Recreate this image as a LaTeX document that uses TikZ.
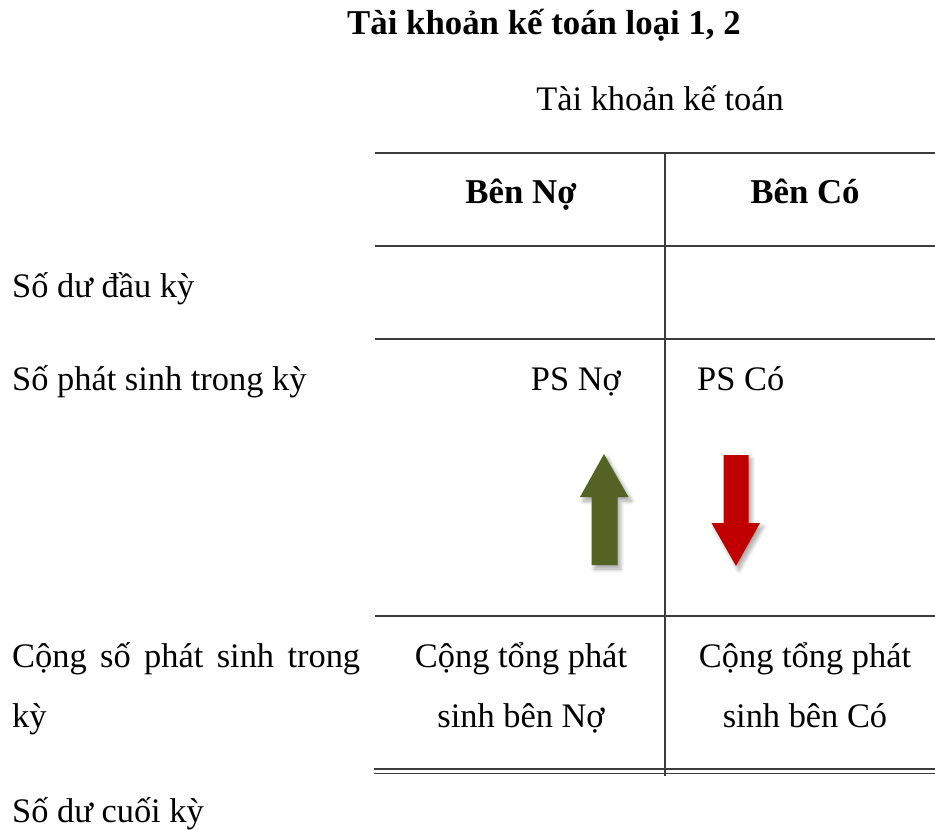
\documentclass[tikz,border=0pt]{standalone}
\usepackage{fontspec}
\setmainfont{Liberation Serif}
\usetikzlibrary{shadows.blur}
\definecolor{rulegray}{RGB}{60,60,60}
\definecolor{upgreen}{RGB}{84,99,35}
\definecolor{downred}{RGB}{192,0,0}
\begin{document}
\begin{tikzpicture}[x=1pt,y=-1pt,
  txt/.style={inner sep=0pt, anchor=base, font=\fontsize{34.4}{40}\selectfont},
  lefttxt/.style={txt, anchor=base west},
  boldtxt/.style={txt, font=\fontsize{34.8}{40}\selectfont\bfseries},
  tablerule/.style={draw=rulegray, line width=1.3pt},
  arrowshape/.style={draw=none, blur shadow={shadow xshift=3pt, shadow yshift=-4pt, shadow blur steps=8, shadow blur radius=4pt, shadow opacity=35}}
]
\useasboundingbox (0,0) rectangle (935,830);

% headings
\node[boldtxt] (title) at (544,34) {Tài khoản kế toán loại 1, 2};
\node[txt] (acct) at (660,110) {Tài khoản kế toán};

% table corners
\coordinate (tl) at (375,153);
\coordinate (tr) at (935,153);
\coordinate (h1l) at (375,246);
\coordinate (h1r) at (935,246);
\coordinate (h2l) at (375,339);
\coordinate (h2r) at (935,339);
\coordinate (h3l) at (375,616);
\coordinate (h3r) at (935,616);
\coordinate (d1l) at (374,769);
\coordinate (d1r) at (935,769);
\coordinate (d2l) at (374,773.5);
\coordinate (d2r) at (935,773.5);
\coordinate (vt) at (665,153);
\coordinate (vb) at (665,776);

\draw[tablerule] (tl) -- (tr);
\draw[tablerule] (h1l) -- (h1r);
\draw[tablerule] (h2l) -- (h2r);
\draw[tablerule] (h3l) -- (h3r);
\draw[tablerule] (d1l) -- (d1r);
\draw[tablerule] (d2l) -- (d2r);
\draw[tablerule] (vt) -- (vb);

% column headers
\node[boldtxt] (no) at (521,203) {Bên Nợ};
\node[boldtxt] (co) at (805,203) {Bên Có};

% row labels
\node[lefttxt] (dudau) at (12,297) {Số dư đầu kỳ};
\node[lefttxt] (psinh) at (12,390) {Số phát sinh trong kỳ};
\node[lefttxt] (congA) at (12,667) {\makebox[348pt][s]{Cộng số phát sinh trong}};
\node[lefttxt] (congB) at (12,727) {kỳ};
\node[lefttxt] (ducuoi) at (12,822) {Số dư cuối kỳ};

% entries
\node[txt, anchor=base east] (psno) at (621,390) {PS Nợ};
\node[txt, anchor=base west] (psco) at (697,390) {PS Có};
\node[txt] (tongnoA) at (521,667) {Cộng tổng phát};
\node[txt] (tongnoB) at (521,727) {sinh bên Nợ};
\node[txt] (tongcoA) at (805,667) {Cộng tổng phát};
\node[txt] (tongcoB) at (805,727) {sinh bên Có};

% debit increase arrow
\fill[upgreen, arrowshape] (604,454) -- (628.5,497) -- (617.5,497) -- (617.5,565)
  -- (591.5,565) -- (591.5,497) -- (580,497) -- cycle;
% credit increase arrow
\fill[downred, arrowshape] (723.5,455) -- (748.5,455) -- (748.5,523) -- (760,523)
  -- (736,566) -- (711.5,523) -- (723.5,523) -- cycle;
\end{tikzpicture}
\end{document}
